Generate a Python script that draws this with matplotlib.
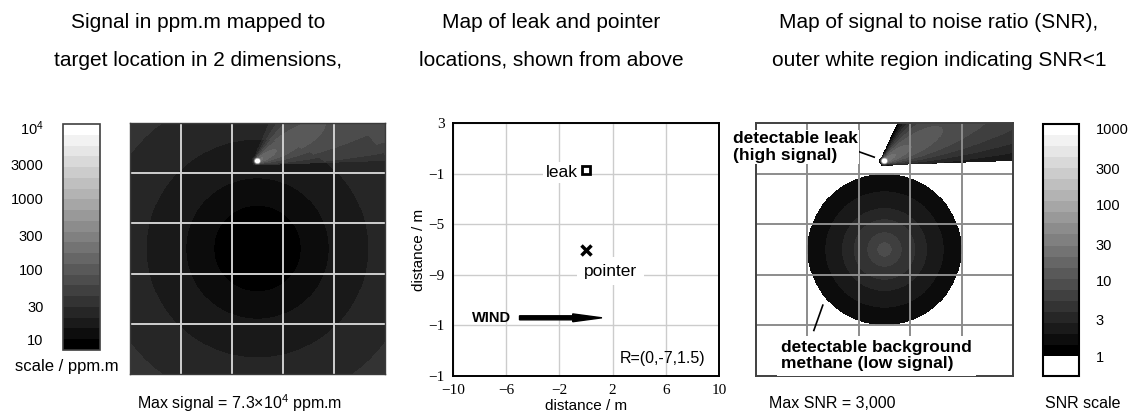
import numpy as np
import matplotlib
matplotlib.use("Agg")
import matplotlib.pyplot as plt
from matplotlib.colors import LogNorm

plt.rcParams['font.family'] = ['Liberation Sans', 'DejaVu Sans']
plt.rcParams['mathtext.fontset'] = 'custom'
plt.rcParams['mathtext.rm'] = 'Liberation Sans'
plt.rcParams['mathtext.it'] = 'Liberation Sans:italic'

# ---- data ----
# map extent (m): x from -10 to 10, y from 3 down to -17
x_lim = [-10, 10]
y_lim = [-17, 3]
grid_x = [-6, -2, 2, 6]
grid_y = [-1, -5, -9, -13]

pointer_xy = (0.0, -7.0)
leak_xy = (0.0, 0.0)           # plume source in the two maps
leak_marker_xy = (0.0, -0.7)   # square marker in the middle map

# background signal (ppm.m): ring radii around the pointer and band values
sig_ring_r = [3.4, 5.6, 8.7, 12.5]
sig_ring_val = [8.5, 12, 17, 25, 35]

# background SNR: ring radii around the pointer and band values (white outside 6 m)
snr_ring_r = [0.55, 1.35, 2.4, 3.3, 4.6, 6.0]
snr_ring_val = [9.0, 6.5, 4.5, 3.2, 2.3, 1.6, 0.5]

# leak plume (wind to the right, drifting up)
plume_angle = 30.0     # deg
plume_amp = 85.0
plume_sig0 = 0.15
plume_spread = 0.32
plume_floor = (-0.35, 0.035)   # lower edge of plume: y = a + b*x
leak_peak = 7.3e4      # max signal ppm.m
leak_radius = 0.07
noise_ppm = 6.0        # ppm.m giving SNR = 1

# colour scales
sig_vmin, sig_vmax = 7.2, 10 ** 4.05
snr_vmin, snr_vmax = 1.0, 10 ** 3.066
n_bands = 21
sig_ticks = [10, 30, 100, 300, 1000, 3000, 10000]
sig_ticklabels = ['10', '30', '100', '300', '1000', '3000', '$10^4$']
snr_ticks = [1, 3, 10, 30, 100, 300, 1000]
snr_ticklabels = ['1', '3', '10', '30', '100', '300', '1000']

mid_xticks = [-10, -6, -2, 2, 6, 10]
mid_xticklabels = ['\u221210', '\u22126', '\u22122', '2', '6', '10']
mid_yticks = [3, -1, -5, -9, -13, -17]
mid_yticklabels = ['3', '\u22121', '\u22125', '\u22129', '\u22121', '\u22121']

wind_start = (-5.0, -12.4)
wind_end = (1.2, -12.4)

# ---- fields ----
xs = np.linspace(x_lim[0], x_lim[1], 500)
ys = np.linspace(y_lim[0], y_lim[1], 500)
X, Y = np.meshgrid(xs, ys)
r = np.hypot(X - pointer_xy[0], Y - pointer_xy[1])

bg_sig = np.array(sig_ring_val)[np.searchsorted(sig_ring_r, r)]
bg_snr = np.array(snr_ring_val)[np.searchsorted(snr_ring_r, r)]

th = np.radians(plume_angle)
dx, dy = X - leak_xy[0], Y - leak_xy[1]
s = dx * np.cos(th) + dy * np.sin(th)
n = -dx * np.sin(th) + dy * np.cos(th)
sig = plume_sig0 + plume_spread * np.clip(s, 0, None)
conc = plume_amp / np.sqrt(sig) * np.exp(-n ** 2 / (2 * sig ** 2))
conc = np.where(s < 0, conc * np.exp(-s ** 2 / (2 * plume_sig0 ** 2)), conc)
conc = np.where(Y > plume_floor[0] + plume_floor[1] * X, conc, 0.0)
conc = conc + leak_peak * np.exp(-(dx ** 2 + dy ** 2) / (2 * leak_radius ** 2))

signal = bg_sig + conc
snr = np.maximum(bg_snr, conc / noise_ppm)

# ---- figure ----
W, H = 1139, 418
fig = plt.figure(figsize=(W / 100, H / 100), dpi=100)


def rect(x0, y0, x1, y1):
    return [x0 / W, 1 - y1 / H, (x1 - x0) / W, (y1 - y0) / H]


def ftext(x, y, txt, **kw):
    fig.text(x / W, 1 - y / H, txt, ha=kw.pop('ha', 'center'), va=kw.pop('va', 'center'), **kw)


extent = [x_lim[0], x_lim[1], y_lim[0], y_lim[1]]

# left: signal map
cmap_sig = plt.get_cmap('gray').resampled(n_bands)
ax1 = fig.add_axes(rect(130, 123, 385, 374))
im1 = ax1.imshow(signal, origin='lower', extent=extent, aspect='auto', cmap=cmap_sig,
                 norm=LogNorm(sig_vmin, sig_vmax), interpolation='nearest')
for gx in grid_x:
    ax1.axvline(gx, color='#cfcfcf', lw=1.4)
for gy in grid_y:
    ax1.axhline(gy, color='#cfcfcf', lw=1.4)
ax1.set_xticks([])
ax1.set_yticks([])
for sp in ax1.spines.values():
    sp.set_color('#3a3a3a')
    sp.set_linewidth(1)

cax1 = fig.add_axes(rect(63, 124, 100, 350))
cb1 = fig.colorbar(im1, cax=cax1, ticks=sig_ticks)
cb1.ax.yaxis.set_ticks_position('left')
cb1.ax.set_yticklabels(sig_ticklabels)
cb1.ax.tick_params(length=0, pad=14, labelsize=10.5)
cb1.ax.minorticks_off()
cb1.outline.set_edgecolor('#404040')
cb1.outline.set_linewidth(1.2)
ftext(67, 367, 'scale / ppm.m', fontsize=12)
ftext(240, 403, 'Max signal = 7.3$\\times$10$^4$ ppm.m', fontsize=11.5)

# middle: leak and pointer
ax2 = fig.add_axes(rect(453, 123, 719, 376))
ax2.set_xlim(x_lim)
ax2.set_ylim(y_lim)
ax2.set_xticks(mid_xticks)
ax2.set_xticklabels(mid_xticklabels)
ax2.set_yticks(mid_yticks)
ax2.set_yticklabels(mid_yticklabels)
ax2.tick_params(length=0, labelsize=11, labelfontfamily='Liberation Serif', pad=6)
ax2.grid(True, color='#cccccc', lw=1)
ax2.set_axisbelow(True)
for sp in ax2.spines.values():
    sp.set_color('black')
    sp.set_linewidth(1.4)
ax2.set_xlabel('distance / m', fontsize=11, labelpad=1)
ax2.set_ylabel('distance / m', fontsize=11, labelpad=2)

ax2.plot(*leak_marker_xy, marker='s', ms=6, mfc='white', mec='black', mew=2)
ax2.text(leak_marker_xy[0] - 0.6, leak_marker_xy[1] - 0.2, 'leak', fontsize=12.5, ha='right', va='center',
         bbox=dict(facecolor='white', edgecolor='none', pad=2))
ax2.plot(*pointer_xy, marker='x', ms=7, mec='black', mew=2.5)
ax2.text(pointer_xy[0] - 0.15, pointer_xy[1] - 1.7, 'pointer', fontsize=12.5, ha='left', va='center',
         bbox=dict(facecolor='white', edgecolor='none', pad=5))
ax2.text(wind_start[0] - 0.6, wind_start[1], 'WIND', fontsize=10.5, fontweight='bold', ha='right', va='center')
ax2.arrow(wind_start[0], wind_start[1], wind_end[0] - wind_start[0], 0, width=0.32,
          head_width=0.62, head_length=2.2, length_includes_head=True, fc='black', ec='black')
ax2.text(8.95, -15.6, 'R=(0,-7,1.5)', fontsize=11.5, ha='right', va='center')

# right: SNR map
cmap_snr = plt.get_cmap('gray').resampled(n_bands).with_extremes(under='white')
ax3 = fig.add_axes(rect(756, 123, 1013, 376))
im3 = ax3.imshow(snr, origin='lower', extent=extent, aspect='auto', cmap=cmap_snr,
                 norm=LogNorm(snr_vmin, snr_vmax), interpolation='nearest')
for gx in grid_x:
    ax3.axvline(gx, color='#8c8c8c', lw=1.4)
for gy in grid_y:
    ax3.axhline(gy, color='#8c8c8c', lw=1.4)
ax3.set_xticks([])
ax3.set_yticks([])
for sp in ax3.spines.values():
    sp.set_color('#404040')
    sp.set_linewidth(1.4)

ax3.plot([-2.6, -0.8], [0.95, 0.3], color='black', lw=1.2)
ax3.text(-11.8, 1.1, 'detectable leak\n(high signal)', fontsize=12.5, fontweight='bold',
         ha='left', va='center', linespacing=1.1, clip_on=False,
         bbox=dict(facecolor='white', edgecolor='none', pad=1))
ax3.plot([-5.5, -4.8], [-13.4, -11.4], color='black', lw=1.2)
ax3.text(-8.05, -15.4, 'detectable background\nmethane (low signal)', fontsize=12.5, fontweight='bold',
         ha='left', va='center', linespacing=1.1, clip_on=False, zorder=5,
         bbox=dict(facecolor='white', edgecolor='none', pad=3))

cax3 = fig.add_axes(rect(1043, 124, 1079, 376))
cb3 = fig.colorbar(im3, cax=cax3, ticks=snr_ticks, extend='min', extendrect=True, extendfrac=20 / 232)
cb3.ax.set_yticklabels(snr_ticklabels)
cb3.ax.tick_params(length=0, pad=12, labelsize=10.5)
cb3.ax.minorticks_off()
cb3.outline.set_edgecolor('black')
cb3.outline.set_linewidth(1.5)
ftext(832, 403, 'Max SNR = 3,000', fontsize=11.5)
ftext(1083, 403, 'SNR scale', fontsize=11.5)

# titles
ftext(198, 23, 'Signal in ppm.m mapped to', fontsize=15)
ftext(198, 60, 'target location in 2 dimensions,', fontsize=15)
ftext(551, 23, 'Map of leak and pointer', fontsize=15)
ftext(551, 60, 'locations, shown from above', fontsize=15)
ftext(939, 23, 'Map of signal to noise ratio (SNR),', fontsize=15)
ftext(939, 60, 'outer white region indicating SNR<1', fontsize=15)

fig.savefig('out.png', dpi=100)
